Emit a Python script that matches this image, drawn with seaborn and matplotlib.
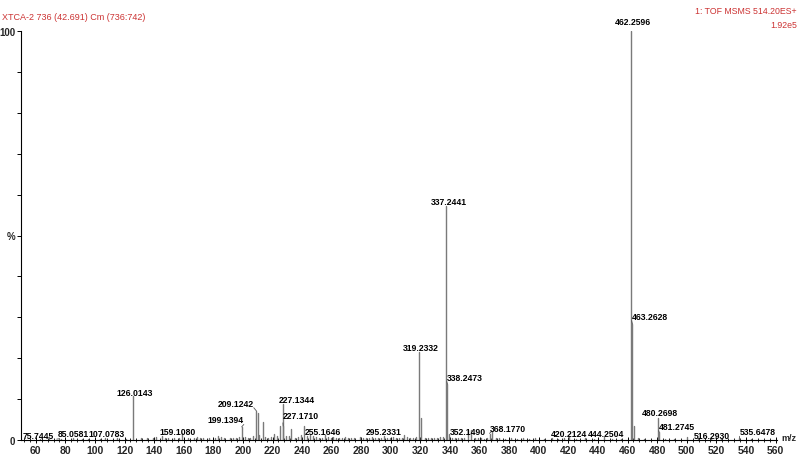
import matplotlib.pyplot as plt
import seaborn as sns
import pandas as pd

# === Spectrum data (m/z, relative intensity %) ===
peak_mz = [75.7445, 85.0581, 107.0783, 126.0143, 159.1080, 199.1394, 209.1242, 210.1275,
           211.13, 213.6, 225.1, 227.1344, 227.1710, 232.7, 241.2, 255.1646, 295.2331,
           309.2, 319.2332, 320.2365, 337.2441, 338.2473, 339.25, 352.1490, 354.2, 367.2,
           368.1770, 420.2124, 444.2504, 462.2596, 463.2628, 464.27, 480.2698, 481.2745,
           500.3, 516.2930, 535.6478]
peak_int = [0.3, 0.4, 0.4, 10.8, 1.8, 3.2, 7.1, 6.5,
            1.3, 4.4, 3.4, 8.8, 3.4, 2.7, 3.5, 1.2, 1.0,
            1.2, 21.5, 5.4, 57.2, 13.7, 1.5, 2.5, 2.4, 1.5,
            2.2, 1.0, 0.7, 100.0, 28.4, 3.4, 5.5, 2.0,
            0.8, 0.4, 0.5]

# small baseline peaks
noise_mz = [63.0, 69.1, 77.1, 91.1, 95.1, 103.1, 115.1, 121.1, 131.1, 135.1, 139.1, 141.1,
            145.1, 147.1, 149.1, 153.1, 157.1, 163.1, 167.1, 169.1, 171.1, 173.1, 177.1,
            181.1, 183.1, 185.1, 187.1, 191.1, 193.1, 195.1, 197.1, 201.1, 203.1, 205.1,
            207.1, 215.1, 217.1, 219.1, 221.1, 223.1, 229.1, 231.1, 235.1, 237.1, 239.1,
            243.1, 245.1, 247.1, 249.1, 251.2, 253.2, 257.2, 259.2, 261.2, 263.2, 265.2,
            267.2, 269.2, 271.2, 273.2, 275.2, 279.2, 281.2, 283.2, 285.2, 287.2, 289.2,
            291.2, 293.2, 297.2, 299.2, 301.2, 303.2, 305.2, 307.2, 311.2, 313.2, 315.2,
            317.2, 323.2, 325.2, 327.2, 329.2, 331.2, 333.2, 335.2, 341.2, 343.2, 345.2,
            347.2, 349.2, 357.2, 359.2, 361.2, 363.2, 365.2, 371.2, 373.2, 377.2, 381.2,
            385.2, 389.2, 393.2, 397.2, 403.2, 409.2, 413.2, 417.2, 425.2, 431.2, 437.2,
            449.3, 455.3, 467.3, 471.3, 485.3, 491.3, 507.3, 523.3, 543.3]
noise_int = [0.2, 0.3, 0.2, 0.3, 0.2, 0.3, 0.4, 0.3, 0.5, 0.6, 0.4, 0.7,
             0.9, 0.6, 0.5, 0.4, 0.6, 0.5, 0.4, 0.7, 0.5, 0.4, 0.6,
             0.5, 1.1, 0.7, 0.4, 0.6, 0.5, 0.4, 0.7, 0.8, 0.5, 0.6,
             0.9, 0.7, 0.5, 0.8, 1.4, 1.1, 0.9, 1.0, 0.6, 0.8, 1.2,
             0.9, 1.3, 1.0, 0.7, 0.6, 0.5, 0.7, 0.6, 0.8, 0.5, 0.6,
             0.4, 0.7, 0.5, 0.6, 0.4, 0.8, 0.5, 0.6, 0.4, 0.7, 0.5,
             0.6, 0.4, 0.6, 0.5, 0.7, 0.4, 0.6, 0.5, 0.8, 0.6, 0.5,
             0.7, 0.6, 0.5, 0.4, 0.6, 0.5, 0.7, 0.8, 0.6, 0.4, 0.5,
             0.6, 0.4, 0.5, 0.4, 0.6, 0.3, 0.5, 0.4, 0.5, 0.3, 0.4,
             0.3, 0.4, 0.3, 0.4, 0.3, 0.4, 0.3, 0.4, 0.3, 0.4, 0.3,
             0.3, 0.2, 0.4, 0.3, 0.3, 0.2, 0.3, 0.2, 0.2]

# labelled peaks and where their text sits (data coords)
label_mz = [462.2596, 337.2441, 463.2628, 319.2332, 338.2473, 126.0143, 209.1242,
            227.1344, 227.1710, 199.1394, 159.1080, 255.1646, 295.2331, 352.1490,
            368.1770, 420.2124, 444.2504, 480.2698, 481.2745, 516.2930, 535.6478,
            75.7445, 85.0581, 107.0783]
label_pos = [(463.4, 102.4), (339.1, 58.2), (474.9, 30.3), (320.1, 22.5), (349.9, 15.4),
             (126.9, 11.5), (195.1, 9.0), (236.4, 9.8), (239.1, 6.1), (188.4, 4.9),
             (155.9, 2.2), (253.9, 2.2), (295.1, 2.2), (351.9, 2.2), (378.9, 2.7),
             (420.1, 1.5), (445.1, 1.5), (481.6, 6.8), (493.1, 3.4), (516.8, 1.2),
             (547.8, 2.0), (61.4, 1.2), (85.7, 1.5), (108.0, 1.5)]
leader = [False, False, True, False, True, False, True, False, True, True,
          False, False, False, False, True, False, False, False, True, False,
          True, True, False, False]

# === Build stick table: each peak = two points (base, top) ===
all_mz = peak_mz + noise_mz
all_int = peak_int + noise_int
rows = []
for i, (m, h) in enumerate(zip(all_mz, all_int)):
    rows.append({"mz": m, "intensity": 0.0, "peak": i})
    rows.append({"mz": m, "intensity": h, "peak": i})
sticks = pd.DataFrame(rows)

# === Plot Settings ===
sns.set_theme(style="ticks")
plt.rcParams["font.family"] = ["Liberation Sans", "DejaVu Sans"]
plt.rcParams["font.weight"] = "bold"

fig = plt.figure(figsize=(8, 4.56), dpi=100)
ax = fig.add_axes([21 / 800, 15 / 456, 756 / 800, 409 / 456])

sns.lineplot(data=sticks, x="mz", y="intensity", units="peak", estimator=None,
             color="#7a7a7a", linewidth=1.0, ax=ax, legend=False)

# === Peak labels ===
height_of = dict(zip(peak_mz, peak_int))
for m, (tx, ty), lead in zip(label_mz, label_pos, leader):
    h = height_of[m]
    txt = f"{m:.4f}"
    if lead:
        rel = (0.0, 0.0) if tx > m else (1.0, 0.0)
        ax.annotate(txt, xy=(m, h), xytext=(tx, ty), ha="center", va="center",
                    fontsize=6.2, fontweight="bold", color="black",
                    arrowprops=dict(arrowstyle="-", color="#555555", lw=0.6,
                                    shrinkA=0, shrinkB=0, relpos=rel),
                    annotation_clip=False)
    else:
        ax.annotate(txt, xy=(tx, ty), ha="center", va="center", fontsize=6.2,
                    fontweight="bold", color="black", annotation_clip=False)

# === Axes styling ===
ax.set_xlim(50, 561)
ax.set_ylim(0, 100)
sns.despine(ax=ax)
for side in ["left", "bottom"]:
    ax.spines[side].set_linewidth(0.8)
    ax.spines[side].set_color("black")

ax.set_xticks(range(60, 561, 20))
ax.set_xticks(range(52, 561, 4), minor=True)
ax.tick_params(axis="x", which="major", direction="inout", length=5, width=0.7,
               labelsize=7.5, pad=1, color="black")
ax.tick_params(axis="x", which="minor", direction="inout", length=3, width=0.6,
               color="black")
ax.set_yticks(range(0, 101, 10))
ax.set_yticklabels(["0", "", "", "", "", "%", "", "", "", "", "100"])
ax.tick_params(axis="y", direction="out", length=3, width=0.7, labelsize=7, pad=1,
               color="black")
for lab in ax.get_xticklabels() + ax.get_yticklabels():
    lab.set_fontweight("bold")
ax.set_xlabel("")
ax.set_ylabel("")

# === Header texts ===
red = "#cc3333"
fig.text(0.003, 1 - 18 / 456, "XTCA-2 736 (42.691) Cm (736:742)", color=red,
         fontsize=6.5, fontweight="normal", va="center", ha="left")
fig.text(0.996, 1 - 12 / 456, "1: TOF MSMS 514.20ES+", color=red,
         fontsize=6.3, fontweight="normal", va="center", ha="right")
fig.text(0.996, 1 - 26 / 456, "1.92e5", color=red,
         fontsize=6.3, fontweight="normal", va="center", ha="right")
fig.text(781 / 800, 1 - 439 / 456, "m/z", fontsize=6.5, fontweight="bold",
         va="center", ha="left")

plt.savefig("out.png", dpi=100)
plt.close()
